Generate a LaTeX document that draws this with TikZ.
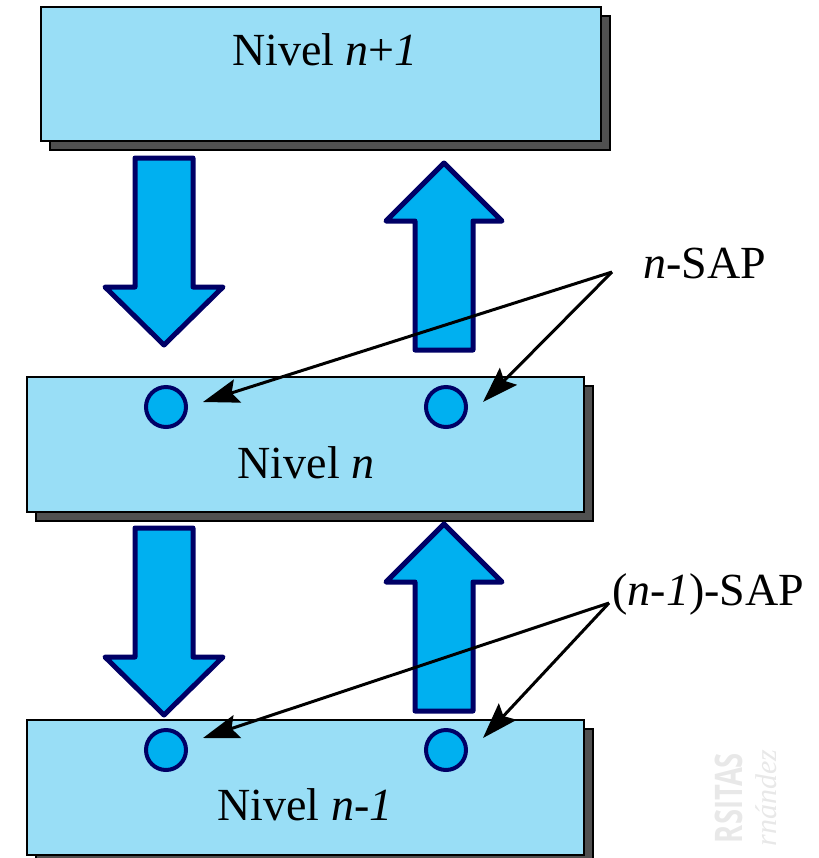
\documentclass[tikz,border=0pt]{standalone}
\usepackage{fontspec}
\setmainfont{Liberation Serif}
\newfontfamily\marcafont{Open Sans}
\usetikzlibrary{arrows.meta,shadows}
\definecolor{celeste}{RGB}{153,222,246}
\definecolor{azulflecha}{RGB}{0,176,240}
\definecolor{marino}{RGB}{0,0,102}
\definecolor{sombra}{RGB}{80,80,80}

\begin{document}
\begin{tikzpicture}[x=0.5pt, y=-0.5pt,
    every node/.style={font=\fontsize{23}{28}\selectfont},
    nivel/.style={draw=black, line width=1.2pt, fill=celeste, inner sep=0pt,
      drop shadow={shadow xshift=4.5pt, shadow yshift=-4.5pt, fill=sombra,
        draw=black, line width=1.2pt, opacity=1}},
    sap/.style={circle, draw=marino, line width=2pt, fill=azulflecha,
      minimum size=20pt, inner sep=0pt},
    bloque/.style={draw=marino, line width=2.5pt, fill=azulflecha, line join=round},
    flecha/.style={line width=1.5pt,
      -{Stealth[length=18pt, width=12pt, inset=3pt]}}]
    \useasboundingbox (0,0) rectangle (819,858);

    % Niveles
    \node[nivel, minimum width=280pt, minimum height=67pt] (nsup) at (321,74) {};
    \node[nivel, minimum width=278.5pt, minimum height=67.5pt] (nmed) at (305.5,444.5) {};
    \node[nivel, minimum width=278.5pt, minimum height=67.5pt] (ninf) at (305.5,787.5) {};
    \node[anchor=base, inner sep=0pt] (tsup) at (325,65) {Nivel \textit{n}+\textit{1}};
    \node[anchor=base, inner sep=0pt] (tmed) at (306,478) {Nivel \textit{n}};
    \node[anchor=base, inner sep=0pt] (tinf) at (305,820) {Nivel \textit{n}-\textit{1}};

    % Flechas de bajada y subida
    \foreach \y in {158,528}
      \draw[bloque] (135,\y) -- ++(58,0) -- ++(0,129) -- ++(30,0) -- ++(-59,58)
        -- ++(-59,-58) -- ++(30,0) -- cycle;
    \foreach \y in {163,524}
      \draw[bloque] (444,\y) -- ++(58,58) -- ++(-29,0) -- ++(0,129) -- ++(-58,0)
        -- ++(0,-129) -- ++(-29,0) -- cycle;

    % Puntos de acceso
    \node[sap] (a1) at (166,407) {};
    \node[sap] (b1) at (446,407) {};
    \node[sap] (a2) at (166,750) {};
    \node[sap] (b2) at (446,750) {};

    % Etiquetas SAP
    \node[anchor=base west, inner sep=0pt] (lsn) at (643,278) {\textit{n}-SAP};
    \node[anchor=base west, inner sep=0pt] (lsm) at (612,605) {(\textit{n}-\textit{1})-SAP};
    \coordinate (pn) at (612,272);
    \coordinate (pm) at (609,603);
    \draw[flecha] (pn) -- ([xshift=7.5pt, yshift=2.5pt]a1.east);
    \draw[flecha] (pn) -- ([xshift=7.5pt, yshift=2.5pt]b1.east);
    \draw[flecha] (pm) -- ([xshift=7.5pt, yshift=6pt]a2.east);
    \draw[flecha] (pm) -- ([xshift=7.5pt, yshift=6pt]b2.east);

    % Marca de agua
    \node[rotate=90, xscale=0.72, inner sep=0pt, text=black!9,
      font=\marcafont\bfseries\fontsize{19}{19}\selectfont]
      (marca) at (729,798) {RSITAS};
    \node[rotate=90, inner sep=0pt, text=black!9,
      font=\itshape\fontsize{15}{15}\selectfont]
      (autor) at (766,798) {rnández};
\end{tikzpicture}
\end{document}
